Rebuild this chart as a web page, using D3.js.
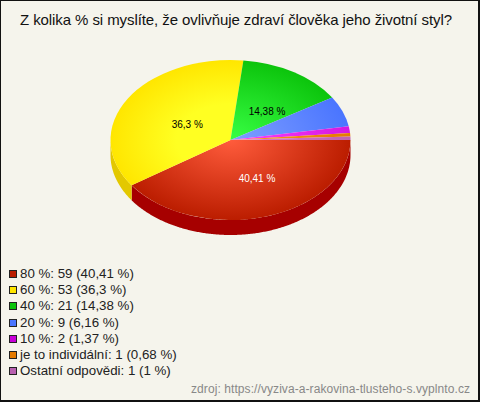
<!DOCTYPE html>
<html><head><meta charset="utf-8">
<script src="https://cdn.jsdelivr.net/npm/d3@7"></script>
<style>html,body{margin:0;padding:0;background:#f5f4ec}svg{display:block}text{font-family:"Liberation Sans",Arial,sans-serif}</style>
</head><body><svg id="c" width="480" height="402"></svg>
<script>
const title = "Z kolika % si myslíte, že ovlivňuje zdraví člověka jeho životní styl?";
const source = "zdroj: https://vyziva-a-rakovina-tlusteho-s.vyplnto.cz";
const categories = ["80 %","60 %","40 %","20 %","10 %","je to individální","Ostatní odpovědi"];
const values = [59,53,21,9,2,1,1];
const percentLabels = ["40,41","36,3","14,38","6,16","1,37","0,68","1"];
const sliceLabels = ["40,41 %","36,3 %","14,38 %",null,null,null,null];
const labelColors = ["#fff","#000","#000",null,null,null,null];
const edgeColors = ["#bb1d00","#ffe600","#0cc40c","#4a75ff","#d418e0","#e57a00","#c060b0"];
const coreColors = ["#ff5c3c","#ffff22","#38ff44","#7f9fff","#ff40ff","#ff9a20","#e080d0"];
const sideColors = ["#a60000","#e3c800","#0a9a0a","#3050c0","#a000a0","#b05000","#904080"];
const legendColors = ["#bb1d00","#ffe600","#0cc40c","#4a75ff","#c800d8","#e57a00","#b860b0"];
// label placement along each slice's mid-angle: [x factor, y factor] of the radii
const labelFactors = [[0.744,0.51],[0.42,0.39],[0.574,0.427]];

const svg = d3.select("#c");
svg.append("rect").attr("x",0.5).attr("y",0.5).attr("width",478).attr("height",400)
  .attr("fill","#f5f4ec").attr("stroke","#111");
svg.append("path").attr("d","M479.5 0V402M0 401.5H480").attr("stroke","#111").attr("fill","none");
svg.append("text").attr("x",20).attr("y",25)
  .attr("font-size",15).attr("textLength",432).attr("lengthAdjust","spacing")
  .attr("fill","#111").text(title);

const cx=230.5, cy=140, rx=120, ry=80, depth=15;
const pie = d3.pie().sort(null).startAngle(Math.PI/2).endAngle(Math.PI*2.5);
const arcs = pie(values);
const arc = d3.arc().innerRadius(0).outerRadius(rx);
const defs = svg.append("defs");
arcs.forEach((d,i)=>{
  const g=defs.append("radialGradient").attr("id","g"+i).attr("gradientUnits","userSpaceOnUse")
    .attr("cx",0).attr("cy",0).attr("r",rx);
  g.append("stop").attr("offset",0).attr("stop-color",coreColors[i]);
  if(i===1) g.append("stop").attr("offset",0.45).attr("stop-color",coreColors[i]);
  g.append("stop").attr("offset",1).attr("stop-color",edgeColors[i]);
});
const root = svg.append("g").attr("transform",`translate(${cx},${cy})`);
const wall = d3.line();
arcs.forEach((d,i)=>{
  const a0=d.startAngle-Math.PI/2, a1=Math.min(d.endAngle-Math.PI/2,Math.PI);
  if(a0>=Math.PI) return;
  const ts=d3.range(a0,a1,0.01).concat([a1]);
  const top=ts.map(t=>[rx*Math.cos(t),ry*Math.sin(t)]);
  const bot=top.map(p=>[p[0],p[1]+depth]).reverse();
  root.append("path").attr("d",wall(top.concat(bot))+"Z").attr("fill",sideColors[i]);
});
const face = root.append("g").attr("transform",`scale(1,${ry/rx})`);
face.selectAll("path").data(arcs).join("path").attr("d",arc).attr("fill",(d,i)=>`url(#g${i})`);
arcs.forEach((d,i)=>{
  if(!sliceLabels[i]) return;
  const m=(d.startAngle+d.endAngle)/2-Math.PI/2, f=labelFactors[i];
  root.append("text").attr("x",rx*f[0]*Math.cos(m)).attr("y",ry*f[1]*Math.sin(m))
    .attr("text-anchor","middle").attr("dy","0.35em").attr("font-size",10)
    .attr("fill",labelColors[i]).text(sliceLabels[i]);
});
const ly = d3.scalePoint().domain(categories).range([274,371]);
const lg = svg.append("g").selectAll("g").data(categories).join("g")
  .attr("transform",d=>`translate(0,${Math.round(ly(d))})`);
lg.append("rect").attr("x",9.5).attr("y",-3.5).attr("width",7).attr("height",7)
  .attr("fill",(d,i)=>legendColors[i]).attr("stroke","#222");
lg.append("text").attr("x",20).attr("y",4).attr("font-size",13.3).attr("fill","#222")
  .text((d,i)=>`${d}: ${values[i]} (${percentLabels[i]} %)`);
svg.append("text").attr("x",191).attr("y",393)
  .attr("font-size",12).attr("textLength",279).attr("lengthAdjust","spacing")
  .attr("fill","#888").text(source);
</script></body></html>
